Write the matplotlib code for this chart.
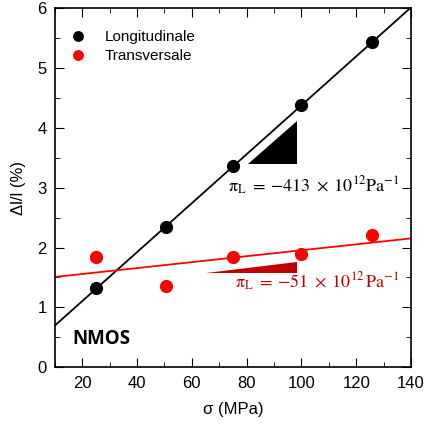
import numpy as np
import matplotlib
matplotlib.use('Agg')
import matplotlib.pyplot as plt
from matplotlib.ticker import MultipleLocator

plt.rcParams['font.family'] = ['Liberation Sans', 'DejaVu Sans']
plt.rcParams['mathtext.fontset'] = 'stix'

# data
stress = [25, 50.7, 75.1, 100, 125.8]
long_dl = [1.32, 2.34, 3.37, 4.38, 5.43]
trans_dl = [1.85, 1.36, 1.85, 1.89, 2.21]

tri_long_x = [80.5, 98.4, 98.4]
tri_long_y = [3.40, 3.40, 4.12]
tri_trans_x = [65, 98.4, 98.4]
tri_trans_y = [1.58, 1.58, 1.75]

fig = plt.figure(figsize=(4.29, 4.32), dpi=100)
ax = fig.add_axes([0.128, 0.150, 0.830, 0.831])

xfit = np.array([10, 140])
pl = np.polyfit(stress, long_dl, 1)
pt = np.polyfit(stress, trans_dl, 1)
ax.plot(xfit, np.polyval(pl, xfit), color='black', lw=1.3, zorder=2)
ax.plot(xfit, np.polyval(pt, xfit), color='red', lw=1.3, zorder=2)

ax.plot(stress, long_dl, 'o', color='black', ms=8.5, label='Longitudinale', zorder=3)
ax.plot(stress, trans_dl, 'o', color='red', ms=8.5, label='Transversale', zorder=3)

ax.fill(tri_long_x, tri_long_y, color='black', lw=0)
ax.fill(tri_trans_x, tri_trans_y, color='#c00000', lw=0)

ax.text(73.2, 3.04, r'$\mathrm{\pi_L}\;=\;{-}413\;\times\;10^{12}\mathrm{Pa}^{-1}$',
        fontsize=13, color='black', va='center')
ax.text(75.7, 1.42, r'$\mathrm{\pi_L}\;=\;{-}51\;\times\;10^{12}\,\mathrm{Pa}^{-1}$',
        fontsize=13, color='#c00000', va='center')

ax.text(16.5, 0.47, 'NMOS', fontsize=13.5, fontweight='bold',
        family=['Open Sans', 'DejaVu Sans'], va='center')

ax.set_xlim(10, 140)
ax.set_ylim(0, 6)
ax.xaxis.set_major_locator(MultipleLocator(20))
ax.xaxis.set_minor_locator(MultipleLocator(10))
ax.yaxis.set_major_locator(MultipleLocator(1))
ax.yaxis.set_minor_locator(MultipleLocator(0.5))
ax.tick_params(which='both', direction='in', top=True, right=True, labelsize=12, pad=6)
ax.tick_params(which='major', length=6.5)
ax.tick_params(which='minor', length=3.5)
for s in ax.spines.values():
    s.set_linewidth(1.2)

ax.set_xlabel('σ (MPa)', fontsize=12, labelpad=8)
ax.set_ylabel('Δl/l (%)', fontsize=12, labelpad=8)

ax.legend(loc='upper left', frameon=False, fontsize=11, handletextpad=0.95,
          borderaxespad=0.9, labelspacing=0.35, handlelength=1.5, markerscale=0.8,
          bbox_to_anchor=(-0.022, 0.995))

fig.savefig('out.png', dpi=100)
